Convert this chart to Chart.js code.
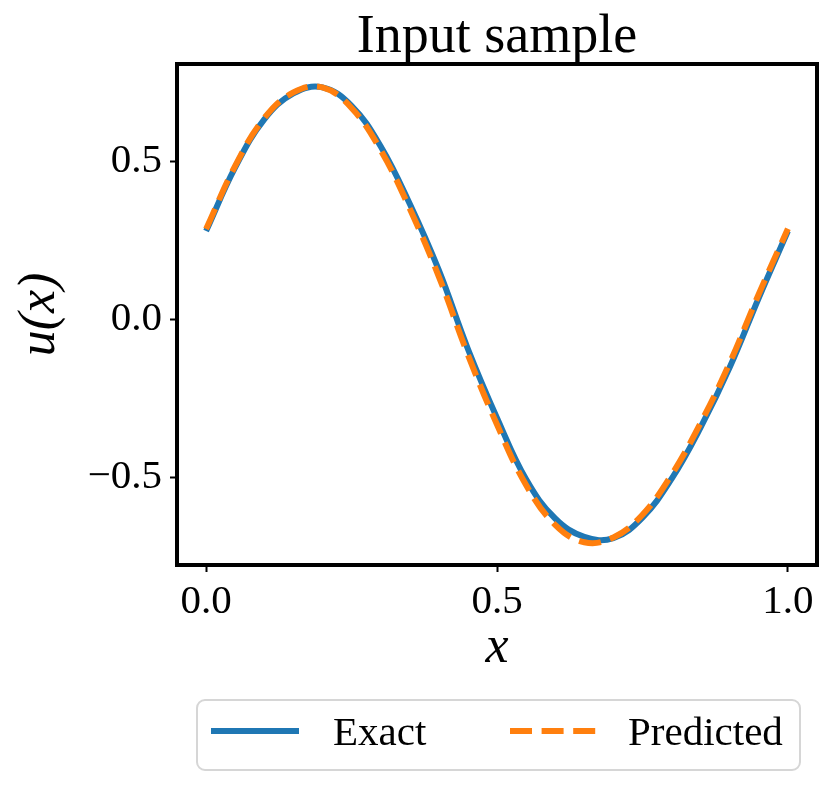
<!DOCTYPE html>
<html>
<head>
<meta charset="utf-8">
<title>Input sample</title>
<script src="https://cdn.jsdelivr.net/npm/chart.js@4/dist/chart.umd.min.js"></script>
<style>
  html, body { margin: 0; padding: 0; background: #fff; }
  #wrap { width: 831px; height: 785px; }
</style>
</head>
<body>
<div id="wrap"><canvas id="chart" width="831" height="785"></canvas></div>
<script>
// Data
const xValues = [0.00, 0.05, 0.10, 0.15, 0.20, 0.25, 0.30, 0.35, 0.40, 0.45, 0.50,
                 0.55, 0.60, 0.65, 0.70, 0.75, 0.80, 0.85, 0.90, 0.95, 1.00];
const exactValues = [0.279, 0.480, 0.632, 0.714, 0.733, 0.675, 0.547, 0.365, 0.155, -0.094, -0.312,
                     -0.506, -0.630, -0.688, -0.692, -0.627, -0.505, -0.342, -0.152, 0.068, 0.279];
const predictedValues = [0.285, 0.485, 0.636, 0.717, 0.733, 0.668, 0.535, 0.350, 0.135, -0.112, -0.333,
                         -0.524, -0.650, -0.705, -0.690, -0.618, -0.492, -0.328, -0.138, 0.080, 0.286];
const seriesLabels = ["Exact", "Predicted"];

const xTicks = [0, 0.5, 1];
const xTickLabels = ["0.0", "0.5", "1.0"];
const yTicks = [-0.5, 0, 0.5];
const yTickLabels = ["\u22120.5", "0.0", "0.5"];

const SERIF = "'Liberation Serif', 'DejaVu Serif', serif";
const BLUE = "#1f77b4";
const ORANGE = "#ff7f0e";

function toPoints(xs, ys) {
  return xs.map((x, i) => ({ x: x, y: ys[i] }));
}

// Frame, title and the boxed legend (matplotlib look)
const decorPlugin = {
  id: "decor",
  afterDatasetsDraw(chart) {
    const { ctx, chartArea: a } = chart;
    ctx.save();
    ctx.strokeStyle = "#000";
    ctx.lineWidth = 4;
    ctx.strokeRect(a.left, a.top, a.right - a.left, a.bottom - a.top);
    ctx.restore();
  },
  afterDraw(chart) {
    const { ctx, chartArea: a } = chart;
    ctx.save();
    // title
    ctx.fillStyle = "#000";
    ctx.font = "54px " + SERIF;
    ctx.textAlign = "center";
    ctx.textBaseline = "alphabetic";
    ctx.fillText("Input sample", (a.left + a.right) / 2, a.top - 12);

    // legend box
    const bx = 197, by = 700, bw = 603, bh = 70, r = 8;
    ctx.beginPath();
    ctx.roundRect(bx, by, bw, bh, r);
    ctx.fillStyle = "rgba(255,255,255,0.8)";
    ctx.fill();
    ctx.strokeStyle = "#d6d6d6";
    ctx.lineWidth = 2;
    ctx.stroke();

    const lineStarts = [211, 510];
    const textStarts = [333, 628];
    const ly = 731;
    chart.data.datasets.forEach((ds, i) => {
      const lx = lineStarts[i];
      ctx.beginPath();
      ctx.setLineDash(ds.borderDash || []);
      ctx.strokeStyle = ds.borderColor;
      ctx.lineWidth = ds.borderWidth;
      ctx.moveTo(lx, ly);
      ctx.lineTo(lx + 88, ly);
      ctx.stroke();
      ctx.setLineDash([]);
      ctx.fillStyle = "#000";
      ctx.font = "41px " + SERIF;
      ctx.textAlign = "left";
      ctx.fillText(ds.label, textStarts[i], 745);
    });
    ctx.restore();
  }
};

new Chart(document.getElementById("chart"), {
  type: "line",
  data: {
    datasets: [
      {
        label: seriesLabels[0],
        data: toPoints(xValues, exactValues),
        borderColor: BLUE,
        borderWidth: 6,
        pointRadius: 0,
        tension: 0.4,
        fill: false,
        order: 1
      },
      {
        label: seriesLabels[1],
        data: toPoints(xValues, predictedValues),
        borderColor: ORANGE,
        borderWidth: 6,
        borderDash: [22, 9.6],
        pointRadius: 0,
        tension: 0.4,
        fill: false,
        order: 0
      }
    ]
  },
  options: {
    responsive: false,
    animation: false,
    devicePixelRatio: 1,
    layout: { padding: { left: 0, top: 64, right: 14, bottom: 110 } },
    plugins: {
      legend: { display: false },
      title: { display: false },
      tooltip: { enabled: false }
    },
    scales: {
      x: {
        type: "linear",
        min: -0.05,
        max: 1.05,
        afterFit(s) { s.height = 110; },
        afterBuildTicks(s) { s.ticks = xTicks.map(v => ({ value: v })); },
        ticks: {
          color: "#000",
          padding: 6,
          maxRotation: 0,
          font: { family: SERIF, size: 41 },
          callback: (v) => xTickLabels[xTicks.indexOf(v)]
        },
        grid: { display: true, drawOnChartArea: false, drawTicks: true, tickLength: 7, tickWidth: 2, tickColor: "#000" },
        border: { display: true, color: "#000", width: 4 },
        title: {
          display: true,
          text: "x",
          color: "#000",
          font: { family: SERIF, size: 52, style: "italic", lineHeight: 1 },
          padding: { top: 0, bottom: 1 }
        }
      },
      y: {
        type: "linear",
        min: -0.777,
        max: 0.807,
        afterFit(s) { s.width = 177; },
        afterBuildTicks(s) { s.ticks = yTicks.map(v => ({ value: v })); },
        ticks: {
          color: "#000",
          padding: 8,
          font: { family: SERIF, size: 41 },
          callback: (v) => yTickLabels[yTicks.indexOf(v)]
        },
        grid: { display: true, drawOnChartArea: false, drawTicks: true, tickLength: 7, tickWidth: 2, tickColor: "#000" },
        border: { display: true, color: "#000", width: 4 },
        title: {
          display: true,
          text: "u(x)",
          color: "#000",
          font: { family: SERIF, size: 52, style: "italic", lineHeight: 1 },
          padding: { top: 14, bottom: 0 }
        }
      }
    }
  },
  plugins: [decorPlugin]
});
</script>
</body>
</html>
